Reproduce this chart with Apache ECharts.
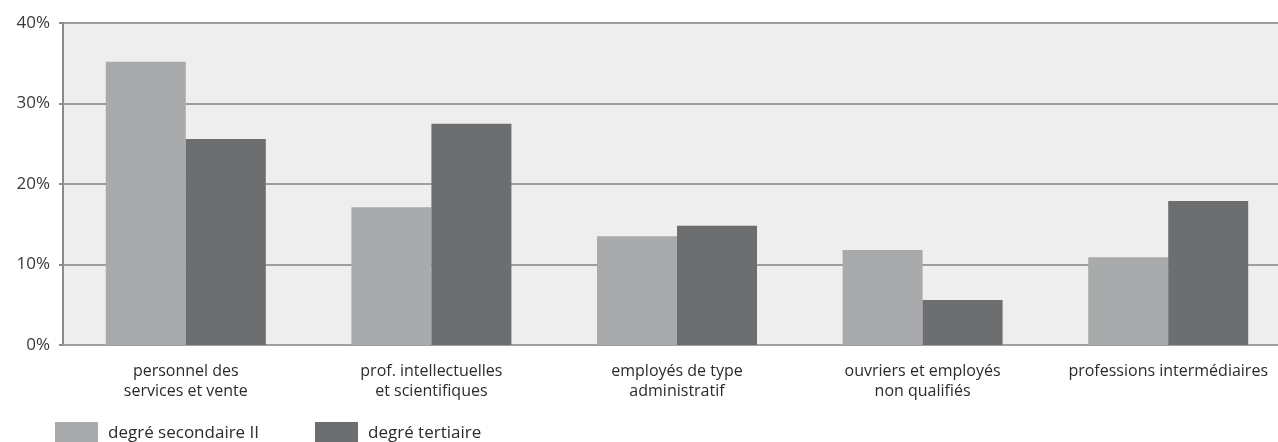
<!DOCTYPE html>
<html>
<head>
<meta charset="utf-8">
<script src="https://cdn.jsdelivr.net/npm/echarts@6/dist/echarts.min.js"></script>
<style>
  html, body { margin: 0; padding: 0; background: #fff; }
  #chart { width: 1278px; height: 442px; }
</style>
</head>
<body>
<div id="chart"></div>
<script>
// catégories et valeurs
const categories = [
  'personnel des\nservices et vente',
  'prof. intellectuelles\net scientifiques',
  'employés de type\nadministratif',
  'ouvriers et employés\nnon qualifiés',
  'professions intermédiaires'
]
const secondaire = [35.2, 17.1, 13.5, 11.8, 10.9]
const tertiaire = [25.6, 27.5, 14.8, 5.6, 17.9]
const seriesNames = ['degré secondaire II', 'degré tertiaire']
const colors = ['#a9aaab', '#6d6e70']

const font = '"Open Sans", sans-serif'

const legendStyle = {
  top: 422,
  padding: 0,
  itemWidth: 43,
  itemHeight: 22,
  icon: 'rect',
  textStyle: {fontFamily: font, fontSize: 17, color: '#2b2b2b', padding: [0, 0, 0, 5]}
}

const myChart = echarts.init(document.getElementById('chart'))
const option = {
  animation: false,
  color: colors,
  grid: {
    left: 63,
    top: 23,
    width: 1228,
    height: 322,
    outerBoundsMode: 'none',
    containLabel: false,
    show: true,
    backgroundColor: '#edeeed',
    borderWidth: 0
  },
  legend: [
    Object.assign({data: [seriesNames[0]], left: 55}, legendStyle),
    Object.assign({data: [seriesNames[1]], left: 315}, legendStyle)
  ],
  xAxis: {
    type: 'category',
    data: categories,
    axisLine: {lineStyle: {color: '#a0a0a0', width: 2}},
    axisTick: {show: false},
    axisLabel: {
      fontFamily: font,
      fontSize: 16,
      lineHeight: 20,
      color: '#2b2b2b',
      margin: 16,
      interval: 0
    }
  },
  yAxis: {
    type: 'value',
    min: 0,
    max: 40,
    interval: 10,
    axisLine: {show: true, lineStyle: {color: '#8c8c8c', width: 2}},
    axisTick: {show: true, length: 4, lineStyle: {color: '#8c8c8c', width: 2}},
    splitLine: {lineStyle: {color: '#9e9e9e', width: 2}},
    axisLabel: {
      formatter: '{value}%',
      fontFamily: font,
      fontSize: 17,
      color: '#3a3a3a',
      margin: 13
    }
  },
  series: [
    {
      name: seriesNames[0],
      type: 'bar',
      data: secondaire,
      barWidth: 80,
      barGap: '0%'
    },
    {
      name: seriesNames[1],
      type: 'bar',
      data: tertiaire,
      barWidth: 80,
      barGap: '0%'
    }
  ]
}
myChart.setOption(option)
</script>
</body>
</html>
